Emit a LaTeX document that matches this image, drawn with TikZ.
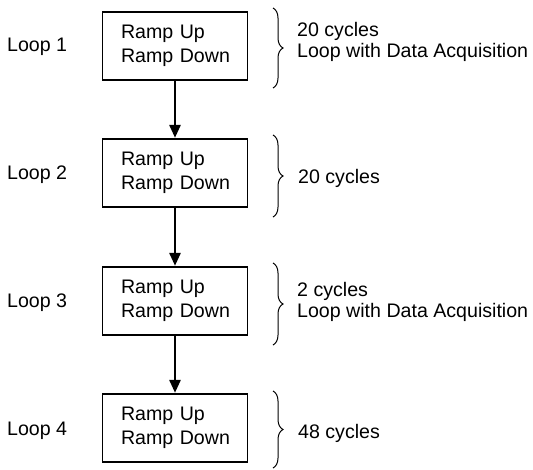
\documentclass[tikz,border=0pt]{standalone}
\usepackage{fontspec}
\setmainfont{Liberation Sans}
\usetikzlibrary{arrows.meta,decorations.pathreplacing}
\begin{document}
\begin{tikzpicture}[x=1pt,y=-1pt,
  every node/.style={font=\fontsize{19.6pt}{20.5pt}\selectfont},
  box/.style={draw, line width=1.3pt, minimum width=145pt, minimum height=68pt,
    text width=108pt, inner xsep=18.5pt, align=left,
    font=\fontsize{19.6pt}{24pt}\selectfont},
  lbl/.style={anchor=west, inner sep=0pt, align=left},
  arr/.style={line width=2.6pt, -{Triangle[length=13pt,width=11pt]}, shorten >=0.5pt},
  brc/.style={line width=1pt, decorate, decoration={brace, amplitude=10pt}}]
\useasboundingbox (0,0) rectangle (533,469);
\node[box] (b1) at (175,46) {Ramp Up\\Ramp~Down};
\node[box] (b2) at (175,173) {Ramp Up\\Ramp~Down};
\node[box] (b3) at (175,301) {Ramp Up\\Ramp~Down};
\node[box] (b4) at (175,428) {Ramp Up\\Ramp~Down};
\draw[arr] (b1.south) -- (b2.north);
\draw[arr] (b2.south) -- (b3.north);
\draw[arr] (b3.south) -- (b4.north);
\node[lbl] (l1) at (7,47) {Loop 1};
\node[lbl] (l2) at (7,175) {Loop 2};
\node[lbl] (l3) at (7,303) {Loop 3};
\node[lbl] (l4) at (7,431) {Loop 4};
\draw[brc] (273,8) -- (273,88);
\draw[brc] (273,135) -- (273,217);
\draw[brc] (273,263) -- (273,345);
\draw[brc] (273,391) -- (273,468);
\node[lbl] (r1) at (297,42) {20 cycles\\Loop with Data Acquisition};
\node[lbl] (r2) at (298,178) {20 cycles};
\node[lbl] (r3) at (297,302) {2 cycles\\Loop with Data Acquisition};
\node[lbl] (r4) at (298,433) {48 cycles};
\end{tikzpicture}
\end{document}
